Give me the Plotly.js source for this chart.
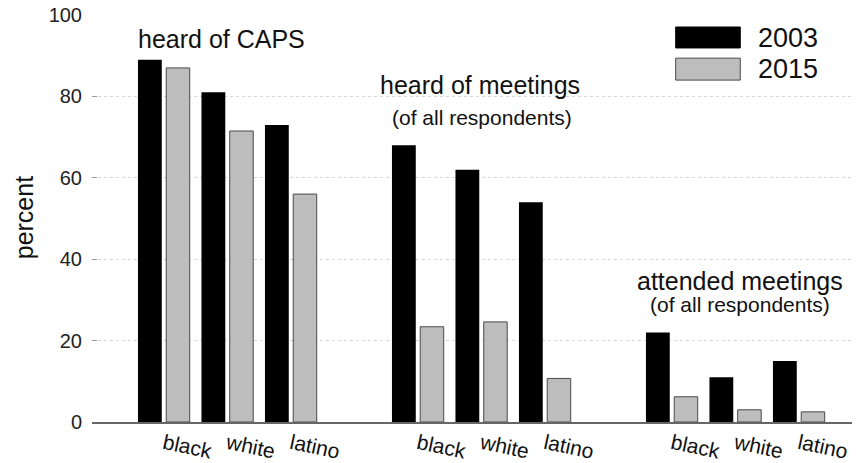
<!DOCTYPE html>
<html>
<head>
<meta charset="utf-8">
<script src="https://cdn.plot.ly/plotly-3.0.1.min.js"></script>
<style>html,body{margin:0;padding:0;background:#fff;}#chart{width:857px;height:463px;}</style>
</head>
<body>
<div id="chart"></div>
<script>
// ---- data ----
var groups = ['heard of CAPS', 'heard of meetings', 'attended meetings'];
var subtitles = ['', '(of all respondents)', '(of all respondents)'];
var categories = ['black', 'white', 'latino'];
var years = ['2003', '2015'];
var values2003 = [89, 81, 73, 68, 62, 54, 22, 11, 15];
var values2015 = [87, 71.5, 56, 23.4, 24.6, 10.7, 6.2, 3, 2.5];
var yTicks = [0, 20, 40, 60, 80, 100];

// ---- positions on a numeric axis: groups separated by one empty slot ----
var xs = [], xLabels = [];
groups.forEach(function (g, gi) {
  categories.forEach(function (c, ci) {
    xs.push(gi * (categories.length + 1) + ci);
    xLabels.push(c);
  });
});

var FONT = 'Liberation Sans, Arial, Helvetica, sans-serif';

var traces = [
  {
    type: 'bar', name: years[0], x: xs, y: values2003,
    offset: -0.41, width: 0.375,
    marker: {color: '#000000', line: {color: '#000000', width: 0}},
    hoverinfo: 'x+y', showlegend: false
  },
  {
    type: 'bar', name: years[1], x: xs, y: values2015,
    offset: 0.035, width: 0.37,
    marker: {color: '#bdbdbd', line: {color: '#4a4a4a', width: 1}},
    hoverinfo: 'x+y', showlegend: false
  }
];

var annotations = [
  {text: groups[0], xref: 'paper', yref: 'paper', x: 0.170, y: 0.940, showarrow: false,
   xanchor: 'center', yanchor: 'middle', font: {family: FONT, size: 25, color: '#111'}},
  {text: groups[1], xref: 'paper', yref: 'paper', x: 0.5105, y: 0.827, showarrow: false,
   xanchor: 'center', yanchor: 'middle', font: {family: FONT, size: 25, color: '#111'}},
  {text: subtitles[1], xref: 'paper', yref: 'paper', x: 0.513, y: 0.747, showarrow: false,
   xanchor: 'center', yanchor: 'middle', font: {family: FONT, size: 21, color: '#111'}},
  {text: groups[2], xref: 'paper', yref: 'paper', x: 0.8526, y: 0.347, showarrow: false,
   xanchor: 'center', yanchor: 'middle', font: {family: FONT, size: 25, color: '#111'}},
  {text: subtitles[2], xref: 'paper', yref: 'paper', x: 0.8526, y: 0.288, showarrow: false,
   xanchor: 'center', yanchor: 'middle', font: {family: FONT, size: 21, color: '#111'}},
  // y axis title
  {text: 'percent', xref: 'paper', yref: 'paper', x: -0.0895, y: 0.503, showarrow: false,
   textangle: -90, xanchor: 'center', yanchor: 'middle', font: {family: FONT, size: 25, color: '#111'}},
  // legend labels
  {text: years[0], xref: 'paper', yref: 'paper', x: 0.874, y: 0.9435, showarrow: false,
   xanchor: 'left', yanchor: 'middle', font: {family: FONT, size: 27, color: '#111'}},
  {text: years[1], xref: 'paper', yref: 'paper', x: 0.874, y: 0.867, showarrow: false,
   xanchor: 'left', yanchor: 'middle', font: {family: FONT, size: 27, color: '#111'}}
];

var shapes = [
  {type: 'rect', xref: 'paper', yref: 'paper', x0: 0.768, x1: 0.853, y0: 0.919, y1: 0.9705,
   fillcolor: '#000000', line: {color: '#000000', width: 1}},
  {type: 'rect', xref: 'paper', yref: 'paper', x0: 0.768, x1: 0.853, y0: 0.840, y1: 0.894,
   fillcolor: '#bdbdbd', line: {color: '#4a4a4a', width: 1}}
];

var layout = {
  width: 857, height: 463,
  margin: {l: 92, r: 5, t: 15, b: 41, pad: 0},
  paper_bgcolor: '#ffffff', plot_bgcolor: '#ffffff',
  barmode: 'overlay',
  showlegend: false,
  xaxis: {
    range: [-1.134, 10.835],
    tickmode: 'array', tickvals: xs, ticktext: xLabels,
    tickangle: 12,
    ticks: '', showgrid: false, zeroline: false,
    showline: true, linecolor: '#666666', linewidth: 1.5,
    tickfont: {family: FONT, size: 21, color: '#111'},
    fixedrange: true
  },
  yaxis: {
    range: [0, 100],
    tickmode: 'array', tickvals: yTicks,
    ticks: 'inside', ticklen: 5, tickcolor: '#999999', tickwidth: 1,
    ticklabelstandoff: 9,
    showgrid: true, gridcolor: '#d6d6d6', griddash: 'dot', gridwidth: 1,
    zeroline: false, showline: false,
    tickfont: {family: FONT, size: 20, color: '#222'},
    fixedrange: true
  },
  annotations: annotations,
  shapes: shapes
};

Plotly.newPlot('chart', traces, layout, {displayModeBar: false, staticPlot: true});
</script>
</body>
</html>
